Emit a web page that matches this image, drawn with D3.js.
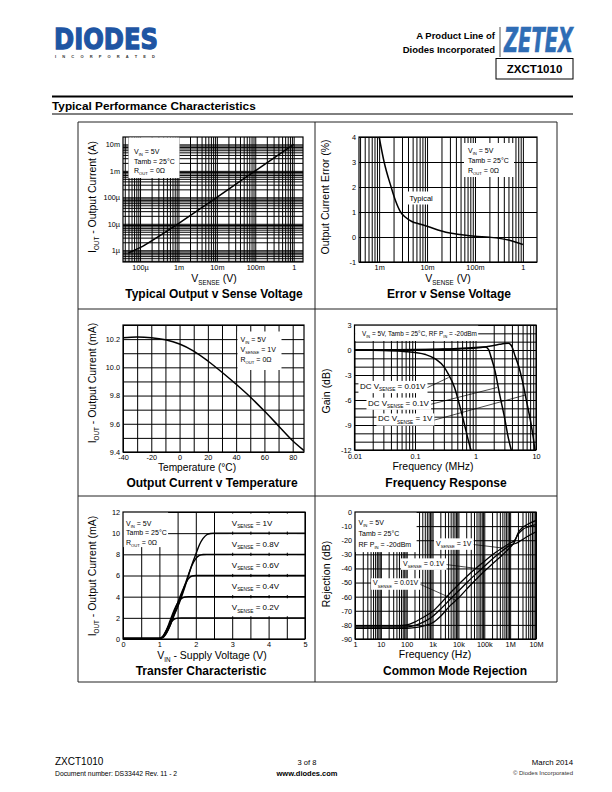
<!DOCTYPE html>
<html><head><meta charset="utf-8">
<script src="https://cdn.jsdelivr.net/npm/d3@7/dist/d3.min.js"></script>
<style>
html,body{margin:0;padding:0;background:#fff;}
svg{display:block;}
</style></head>
<body>
<svg id="page" width="612" height="792" xmlns="http://www.w3.org/2000/svg"></svg>
<script>
// ================= DATA =================
// Chart 1 – Typical Output v Sense Voltage
const c1Vsense = [5e-5, 1e-4, 3e-4, 1e-3, 1e-2, 1e-1, 1];
const c1Iout   = [0.8e-6, 1.25e-6, 3.3e-6, 1.02e-5, 1e-4, 1e-3, 1e-2];
const c1XTicks = [1e-4, 1e-3, 1e-2, 1e-1, 1];
const c1XLabels = ["100µ", "1m", "10m", "100m", "1"];
const c1YTicks = [1e-6, 1e-5, 1e-4, 1e-3, 1e-2];
const c1YLabels = ["1µ", "10µ", "100µ", "1m", "10m"];

// Chart 2 – Error v Sense Voltage
const c2Vsense = [1e-3, 1.27e-3, 1.78e-3, 2.2e-3, 2.8e-3, 3.5e-3, 4.8e-3, 7e-3, 1e-2, 2e-2, 3e-2, 5e-2, 1e-1, 2e-1, 5e-1, 1];
const c2Error  = [4.0, 3.0, 2.0, 1.45, 1.0, 0.8, 0.62, 0.52, 0.43, 0.24, 0.16, 0.1, 0.03, -0.01, -0.12, -0.3];
const c2XTicks = [1e-3, 1e-2, 1e-1, 1];
const c2XLabels = ["1m", "10m", "100m", "1"];
const c2YTicks = [-1, 0, 1, 2, 3, 4];

// Chart 3 – Output Current v Temperature
const c3Temp = [-40, -30, -20, -10, 0, 10, 20, 30, 40, 50, 60, 70, 80, 88];
const c3Iout = [10.21, 10.215, 10.21, 10.195, 10.165, 10.115, 10.045, 9.965, 9.88, 9.79, 9.69, 9.585, 9.48, 9.41];
const c3XTicks = [-40, -20, 0, 20, 40, 60, 80];
const c3YTicks = [9.4, 9.6, 9.8, 10.0, 10.2];

// Chart 4 – Frequency Response (MHz, dB)
const c4Freq1 = [0.01, 0.03, 0.06, 0.1, 0.15, 0.22, 0.3, 0.35, 0.45, 0.54, 0.66, 0.79, 0.84];
const c4Gain1 = [0, -0.05, -0.15, -0.3, -0.55, -1.1, -2.0, -2.8, -4.5, -6.5, -9.0, -11.3, -12];
const c4Freq2 = [0.01, 0.1, 0.3, 0.6, 1.0, 1.45, 1.65, 1.8, 2.1, 2.5, 3.0, 3.5, 3.9];
const c4Gain2 = [0, 0.05, 0.12, 0.22, 0.3, 0.35, 0.05, -0.8, -2.5, -5.3, -8.0, -10.6, -12];
const c4Freq3 = [0.01, 0.1, 0.3, 0.6, 1.0, 1.5, 2.0, 2.5, 3.0, 3.5, 4.0, 4.5, 5.2, 6.0, 7.0, 8.2, 9.0, 9.6];
const c4Gain3 = [0, 0.03, 0.08, 0.15, 0.25, 0.4, 0.55, 0.68, 0.77, 0.8, 0.4, -0.7, -2.0, -3.8, -6.2, -8.7, -10.5, -12];
const c4XTicks = [0.01, 0.1, 1, 10];
const c4XLabels = ["0.01", "0.1", "1", "10"];
const c4YTicks = [3, 0, -3, -6, -9, -12];

// Chart 5 – Transfer Characteristic (V, mA)
const c5Vin = [0, 1.0, 1.1, 1.2, 1.3, 1.4, 1.5, 1.6, 1.7, 1.8, 1.9, 2.0, 2.1, 2.2, 2.3, 2.4, 2.5, 5.0];
const c5I_1V  = [0.05, 0.05, 0.15, 0.6, 1.3, 2.2, 3.0, 3.9, 4.9, 6.0, 7.1, 8.0, 8.9, 9.5, 9.85, 9.97, 10, 10];
const c5I_08V = [0.05, 0.05, 0.15, 0.6, 1.35, 2.3, 3.1, 4.1, 5.1, 6.1, 7.0, 7.6, 7.9, 7.98, 8, 8, 8, 8];
const c5I_06V = [0.05, 0.05, 0.2, 0.8, 1.6, 2.5, 3.4, 4.3, 5.1, 5.7, 5.95, 6, 6, 6, 6, 6, 6, 6];
const c5I_04V = [0.05, 0.05, 0.25, 0.9, 1.8, 2.7, 3.4, 3.8, 3.97, 4, 4, 4, 4, 4, 4, 4, 4, 4];
const c5I_02V = [0.05, 0.05, 0.3, 0.9, 1.5, 1.85, 1.97, 2, 2, 2, 2, 2, 2, 2, 2, 2, 2, 2];
const c5XTicks = [0, 1, 2, 3, 4, 5];
const c5YTicks = [0, 2, 4, 6, 8, 10, 12];
const c5LabelLevels = [11, 9, 7, 5, 3];
const c5LabelValues = ["1V", "0.8V", "0.6V", "0.4V", "0.2V"];

// Chart 6 – Common Mode Rejection (Hz, dB)
const c6Freq = [1, 10, 50, 100, 200, 500, 1e3, 2e3, 5e3, 1e4, 2e4, 5e4, 1e5, 2e5, 5e5, 1e6, 1.5e6, 2e6, 3e6, 5e6, 1e7];
const c6Rej_1V   = [-80.5, -80.5, -80.5, -80, -78, -74, -70.5, -65, -57, -51.5, -46, -39.5, -35, -30.5, -25.5, -22, -20, -16, -12.5, -10.5, -9];
const c6Rej_01V  = [-81.5, -81.5, -81.5, -81.5, -80.5, -77.5, -74, -69, -61.5, -56, -50.5, -43.5, -38.5, -33.5, -27.5, -23.5, -22.5, -21.5, -19.5, -17, -14];
const c6Rej_001V = [-82.5, -82.5, -82.5, -82.5, -82, -80.5, -78.5, -74, -66, -61, -55, -47.5, -42, -37, -30.5, -25, -21, -15, -11, -8.5, -6];
const c6XTicks = [1, 10, 100, 1e3, 1e4, 1e5, 1e6, 1e7];
const c6XLabels = ["1", "10", "100", "1k", "10k", "100k", "1M", "10M"];
const c6YTicks = [0, -10, -20, -30, -40, -50, -60, -70, -80, -90];

// ================= DRAWING =================
const FONT = "'Liberation Sans', Arial, Helvetica, sans-serif";
const svg = d3.select('#page');
svg.append('rect').attr('width', 612).attr('height', 792).attr('fill', '#fff');

function rich(g, x, y, parts, size, opt = {}) {
  const t = g.append('text')
    .attr('x', x).attr('y', y)
    .attr('font-size', size)
    .attr('font-family', opt.family || FONT)
    .attr('text-anchor', opt.anchor || 'start')
    .attr('fill', opt.fill || '#000');
  if (opt.bold) t.attr('font-weight', 'bold');
  if (opt.rotate) t.attr('transform', `rotate(-90,${x},${y})`);
  let cur = 0;
  parts.forEach(p => {
    const sub = Array.isArray(p);
    const s = sub ? p[0] : p;
    const off = sub ? size * 0.3 : 0;
    const ts = t.append('tspan').text(s);
    if (off !== cur) { ts.attr('dy', off - cur); cur = off; }
    if (sub) ts.attr('font-size', size * 0.6);
  });
  return t;
}

function boxed(g, x, y, parts, size, pad) {
  const grp = g.append('g');
  const r = grp.append('rect').attr('fill', '#fff');
  const t = rich(grp, x, y, parts, size);
  const b = t.node().getBBox();
  r.attr('x', b.x - pad).attr('y', b.y - pad * 0.6).attr('width', b.width + 2 * pad).attr('height', b.height + pad * 1.2);
  return b;
}

let clipId = 0;
function chart(p, x, y, opt) {
  const g = svg.append('g');
  const gx = g.append('g').attr('transform', `translate(0,${p.b})`)
    .call(d3.axisBottom(x).tickValues(opt.gridX).tickSize(-(p.b - p.t)).tickFormat(''));
  const gy = g.append('g').attr('transform', `translate(${p.l},0)`)
    .call(d3.axisLeft(y).tickValues(opt.gridY).tickSize(-(p.r - p.l)).tickFormat(''));
  [gx, gy].forEach(a => { a.select('.domain').remove(); a.selectAll('line').attr('stroke', '#000').attr('stroke-width', 1); });
  g.append('rect').attr('x', p.l).attr('y', p.t).attr('width', p.r - p.l).attr('height', p.b - p.t)
    .attr('fill', 'none').attr('stroke', '#000').attr('stroke-width', 1.2);
  const ax = g.append('g').attr('transform', `translate(0,${p.b})`)
    .call(d3.axisBottom(x).tickValues(opt.xTicks).tickFormat((d, i) => opt.xLabels[i]).tickSize(0).tickPadding(opt.xPad || 2.5));
  const ay = g.append('g').attr('transform', `translate(${p.l},0)`)
    .call(d3.axisLeft(y).tickValues(opt.yTicks).tickFormat((d, i) => opt.yLabels[i]).tickSize(0).tickPadding(3));
  [ax, ay].forEach(a => {
    a.select('.domain').remove();
    a.attr('font-family', FONT).attr('font-size', 7.3);
    a.selectAll('text').attr('fill', '#000');
  });
  const id = 'clip' + (clipId++);
  g.append('clipPath').attr('id', id).append('rect')
    .attr('x', p.l).attr('y', p.t - 1).attr('width', p.r - p.l).attr('height', p.b - p.t + 2);
  g.clip = `url(#${id})`;
  return g;
}

function curve(g, x, y, xs, ys, w = 1.5) {
  g.append('path').datum(d3.zip(xs, ys))
    .attr('d', d3.line().x(d => x(d[0])).y(d => y(d[1])).curve(d3.curveMonotoneX))
    .attr('fill', 'none').attr('stroke', '#000').attr('stroke-width', w)
    .attr('stroke-linejoin', 'round').attr('clip-path', g.clip);
}

function legendBox(g, bx, by, bw, bh, lines, tx, ty0, dy, size) {
  g.append('rect').attr('x', bx).attr('y', by).attr('width', bw).attr('height', bh).attr('fill', '#fff');
  lines.forEach((l, i) => rich(g, tx, ty0 + i * dy, l, size));
}

// ---------- Header ----------
svg.append('text').attr('x', 54).attr('y', 48.5).attr('font-family', "'DejaVu Sans', sans-serif")
  .attr('font-weight', 'bold').attr('font-size', 29).attr('fill', '#1f55a3')
  .attr('stroke', '#1f55a3').attr('stroke-width', 1.3).attr('stroke-linejoin', 'miter')
  .attr('textLength', 104).attr('lengthAdjust', 'spacingAndGlyphs').text('DIODES');
svg.append('text').attr('x', 55).attr('y', 58).attr('font-family', FONT).attr('font-weight', 'bold')
  .attr('font-size', 4).attr('fill', '#333').attr('textLength', 100).attr('lengthAdjust', 'spacing')
  .text('I N C O R P O R A T E D');
svg.append('text').attr('x', 495).attr('y', 39).attr('text-anchor', 'end').attr('font-family', FONT)
  .attr('font-weight', 'bold').attr('font-size', 9.5).text('A Product Line of');
svg.append('text').attr('x', 495).attr('y', 52.5).attr('text-anchor', 'end').attr('font-family', FONT)
  .attr('font-weight', 'bold').attr('font-size', 9.5).text('Diodes Incorporated');
svg.append('line').attr('x1', 500).attr('x2', 500).attr('y1', 27).attr('y2', 57).attr('stroke', '#555').attr('stroke-width', 1);
svg.append('text').attr('x', 504).attr('y', 52).attr('font-family', "'Liberation Sans Narrow','DejaVu Sans Condensed','Liberation Sans',sans-serif")
  .attr('font-weight', 'bold').attr('font-style', 'italic').attr('font-size', 34).attr('fill', '#2f6db5')
  .attr('stroke', '#2f6db5').attr('stroke-width', 0.6)
  .attr('textLength', 69).attr('lengthAdjust', 'spacingAndGlyphs').text('ZETEX');
svg.append('rect').attr('x', 496).attr('y', 58.5).attr('width', 77).attr('height', 20.5)
  .attr('fill', 'none').attr('stroke', '#000').attr('stroke-width', 1);
svg.append('text').attr('x', 534.5).attr('y', 73).attr('text-anchor', 'middle').attr('font-family', FONT)
  .attr('font-weight', 'bold').attr('font-size', 11.5).text('ZXCT1010');

svg.append('line').attr('x1', 52).attr('x2', 573).attr('y1', 96.5).attr('y2', 96.5).attr('stroke', '#000').attr('stroke-width', 2.2);
svg.append('text').attr('x', 52).attr('y', 109.5).attr('font-family', FONT).attr('font-weight', 'bold')
  .attr('font-size', 11.8).text('Typical Performance Characteristics');
svg.append('line').attr('x1', 52).attr('x2', 573).attr('y1', 114).attr('y2', 114).attr('stroke', '#000').attr('stroke-width', 1);

// ---------- Panel frame ----------
const frame = svg.append('g').attr('stroke', '#222').attr('stroke-width', 1).attr('fill', 'none');
[78, 315, 557].forEach(xv => frame.append('line').attr('x1', xv).attr('x2', xv).attr('y1', 122).attr('y2', 682));
[122, 309, 496, 682].forEach(yv => frame.append('line').attr('x1', 78).attr('x2', 557).attr('y1', yv).attr('y2', yv));

const FS_AX = 10.5, FS_TI = 12, FS_LEG = 7;

// ---------- Chart 1 ----------
{
  const p = {l: 123, r: 303, t: 137, b: 262};
  const x = d3.scaleLog().domain([3.6e-5, 1.75]).range([p.l, p.r]);
  const y = d3.scaleLog().domain([3.6e-7, 0.019]).range([p.b, p.t]);
  const g = chart(p, x, y, {gridX: x.ticks(), gridY: y.ticks(), xTicks: c1XTicks, xLabels: c1XLabels, yTicks: c1YTicks, yLabels: c1YLabels});
  legendBox(g, 128.5, 137.5, 51, 40.5, [["V", ["IN"], " = 5V"], ["Tamb = 25°C"], ["R", ["OUT"], " = 0Ω"]], 134, 154, 9.5, FS_LEG);
  curve(g, x, y, c1Vsense, c1Iout);
  rich(g, 214, 282, ["V", ["SENSE"], " (V)"], FS_AX, {anchor: 'middle'});
  rich(g, 95.5, 197, ["I", ["OUT"], " - Output Current (A)"], FS_AX, {anchor: 'middle', rotate: true});
  rich(g, 214, 298, ["Typical Output v Sense Voltage"], FS_TI, {anchor: 'middle', bold: true});
}

// ---------- Chart 2 ----------
{
  const p = {l: 359, r: 537, t: 137, b: 262};
  const x = d3.scaleLog().domain([3.8e-4, 1.97]).range([p.l, p.r]);
  const y = d3.scaleLinear().domain([-1, 4]).range([p.b, p.t]);
  const g = chart(p, x, y, {gridX: x.ticks(), gridY: c2YTicks, xTicks: c2XTicks, xLabels: c2XLabels, yTicks: c2YTicks, yLabels: c2YTicks.map(String)});
  legendBox(g, 464, 143, 50, 34, [["V", ["IN"], " = 5V"], ["Tamb = 25°C"], ["R", ["OUT"], " = 0Ω"]], 468, 153, 9.8, FS_LEG);
  curve(g, x, y, c2Vsense, c2Error);
  const tp = rich(g, x(7.5e-3), y(1.56) + 2.5, ["Typical"], 7.5, {anchor: 'middle'});
  const b = tp.node().getBBox();
  g.insert('rect', () => tp.node()).attr('x', b.x - 3).attr('y', b.y - 2).attr('width', b.width + 6).attr('height', b.height + 4).attr('fill', '#fff');
  rich(g, 448, 282, ["V", ["SENSE"], " (V)"], FS_AX, {anchor: 'middle'});
  rich(g, 328.5, 197, ["Output Current Error (%)"], FS_AX, {anchor: 'middle', rotate: true});
  rich(g, 449, 298, ["Error v Sense Voltage"], FS_TI, {anchor: 'middle', bold: true});
}

// ---------- Chart 3 ----------
{
  const p = {l: 123, r: 304, t: 325, b: 452};
  const x = d3.scaleLinear().domain([-40, 88]).range([p.l, p.r]);
  const y = d3.scaleLinear().domain([9.4, 10.3]).range([p.b, p.t]);
  const g = chart(p, x, y, {gridX: d3.range(-40, 81, 10), gridY: d3.range(94, 104, 1).map(v => v / 10),
    xTicks: c3XTicks, xLabels: c3XTicks.map(String), yTicks: c3YTicks, yLabels: c3YTicks.map(d => d.toFixed(1))});
  legendBox(g, 237.5, 331.5, 44, 38.5, [["V", ["IN"], " = 5V"], ["V", ["SENSE"], " = 1V"], ["R", ["OUT"], " = 0Ω"]], 240.5, 341.5, 10, FS_LEG);
  curve(g, x, y, c3Temp, c3Iout);
  rich(g, 197, 470.5, ["Temperature (°C)"], 10.2, {anchor: 'middle'});
  rich(g, 95.5, 383, ["I", ["OUT"], " - Output Current (mA)"], FS_AX, {anchor: 'middle', rotate: true});
  rich(g, 212, 486.5, ["Output Current v Temperature"], FS_TI, {anchor: 'middle', bold: true});
}

// ---------- Chart 4 ----------
{
  const p = {l: 354.5, r: 536, t: 325, b: 450};
  const x = d3.scaleLog().domain([0.01, 10]).range([p.l, p.r]);
  const y = d3.scaleLinear().domain([-12, 3]).range([p.b, p.t]);
  const g = chart(p, x, y, {gridX: x.ticks(), gridY: d3.range(-12, 4, 1), xTicks: c4XTicks, xLabels: c4XLabels, yTicks: c4YTicks, yLabels: c4YTicks.map(String), xPad: 4});
  legendBox(g, 355.2, 325.7, 123, 15.3, [["V", ["IN"], " = 5V, Tamb = 25°C, RF P", ["IN"], " = -20dBm"]], 362, 336, 0, 6.4);
  curve(g, x, y, c4Freq1, c4Gain1);
  curve(g, x, y, c4Freq2, c4Gain2);
  curve(g, x, y, c4Freq3, c4Gain3);
  const labs = [
    {at: [0.0123, -4.3], parts: ["DC V", ["SENSE"], " = 0.01V"], end: [0.36, -3.3]},
    {at: [0.0167, -6.3], parts: ["DC V", ["SENSE"], " = 0.1V"], end: [2.27, -4.5]},
    {at: [0.0244, -8.2], parts: ["DC V", ["SENSE"], " = 1V"], end: [6.7, -5.4]}
  ];
  labs.forEach(l => {
    const b = boxed(g, x(l.at[0]), y(l.at[1]) + 3, l.parts, 8, 1.5);
    g.append('line').attr('x1', b.x + b.width + 1.5).attr('y1', b.y + b.height * 0.55)
      .attr('x2', x(l.end[0])).attr('y2', y(l.end[1])).attr('stroke', '#000').attr('stroke-width', 0.7);
  });
  rich(g, 433, 470, ["Frequency (MHz)"], FS_AX, {anchor: 'middle'});
  rich(g, 329.5, 391, ["Gain (dB)"], FS_AX, {anchor: 'middle', rotate: true});
  rich(g, 446, 486.5, ["Frequency Response"], FS_TI, {anchor: 'middle', bold: true});
}

// ---------- Chart 5 ----------
{
  const p = {l: 123, r: 305, t: 512, b: 639};
  const x = d3.scaleLinear().domain([0, 5]).range([p.l, p.r]);
  const y = d3.scaleLinear().domain([0, 12]).range([p.b, p.t]);
  const g = chart(p, x, y, {gridX: d3.range(0, 11, 1).map(v => v / 2), gridY: c5YTicks, xTicks: c5XTicks, xLabels: c5XTicks.map(String), yTicks: c5YTicks, yLabels: c5YTicks.map(String)});
  legendBox(g, 123.6, 512.6, 44.5, 34.5, [["V", ["IN"], " = 5V"], ["Tamb = 25°C"], ["R", ["OUT"], " = 0Ω"]], 126, 525.5, 9.5, FS_LEG);
  c5LabelLevels.forEach((lv, i) => {
    g.append('rect').attr('x', x(2.9)).attr('y', y(lv + 0.85)).attr('width', x(4.78) - x(2.9)).attr('height', y(lv - 0.85) - y(lv + 0.85)).attr('fill', '#fff');
    rich(g, x(2.99), y(lv) + 3, ["V", ["SENSE"], " = " + c5LabelValues[i]], 8);
  });
  [c5I_1V, c5I_08V, c5I_06V, c5I_04V, c5I_02V].forEach(s => curve(g, x, y, c5Vin, s, 1.4));
  rich(g, 212, 658.5, ["V", ["IN"], " - Supply Voltage (V)"], FS_AX, {anchor: 'middle'});
  rich(g, 95.5, 576, ["I", ["OUT"], " - Output Current (mA)"], FS_AX, {anchor: 'middle', rotate: true});
  rich(g, 201, 674.5, ["Transfer Characteristic"], FS_TI, {anchor: 'middle', bold: true});
}

// ---------- Chart 6 ----------
{
  const p = {l: 355, r: 536, t: 512, b: 639};
  const x = d3.scaleLog().domain([1, 1e7]).range([p.l, p.r]);
  const y = d3.scaleLinear().domain([-90, 0]).range([p.b, p.t]);
  const g = chart(p, x, y, {gridX: x.ticks(), gridY: c6YTicks, xTicks: c6XTicks, xLabels: c6XLabels, yTicks: c6YTicks, yLabels: c6YTicks.map(String)});
  legendBox(g, 355.6, 512.6, 61, 39.5, [["V", ["IN"], " = 5V"], ["Tamb = 25°C"], ["RF P", ["IN"], " = -20dBm"]], 358.5, 524.5, 11, FS_LEG);
  curve(g, x, y, c6Freq, c6Rej_1V, 1.3);
  curve(g, x, y, c6Freq, c6Rej_01V, 1.3);
  curve(g, x, y, c6Freq, c6Rej_001V, 1.3);
  const labs = [
    {at: [1356, -22], parts: ["V", ["SENSE"], " = 1V"], end: [5e5, -25.5]},
    {at: [72, -36.2], parts: ["V", ["SENSE"], " = 0.1V"], end: [8e4, -40.5]},
    {at: [5, -50.3], parts: ["V", ["SENSE"], " = 0.01V"], end: [8e3, -62.6]}
  ];
  labs.forEach(l => {
    const b = boxed(g, x(l.at[0]), y(l.at[1]) + 2.5, l.parts, 7, 2);
    g.append('line').attr('x1', b.x + b.width + 2).attr('y1', b.y + b.height * 0.55)
      .attr('x2', x(l.end[0])).attr('y2', y(l.end[1])).attr('stroke', '#000').attr('stroke-width', 0.7);
  });
  rich(g, 435, 657.5, ["Frequency (Hz)"], FS_AX, {anchor: 'middle'});
  rich(g, 329.5, 574, ["Rejection (dB)"], FS_AX, {anchor: 'middle', rotate: true});
  rich(g, 455, 674.5, ["Common Mode Rejection"], FS_TI, {anchor: 'middle', bold: true});
}

// ---------- Footer ----------
svg.append('text').attr('x', 55).attr('y', 765).attr('font-family', FONT).attr('font-size', 10).text('ZXCT1010');
svg.append('text').attr('x', 55).attr('y', 775.5).attr('font-family', FONT).attr('font-size', 6.8).text('Document number: DS33442 Rev. 11 - 2');
svg.append('text').attr('x', 307).attr('y', 765).attr('text-anchor', 'middle').attr('font-family', FONT).attr('font-size', 7.5).text('3 of 8');
svg.append('text').attr('x', 307).attr('y', 775.5).attr('text-anchor', 'middle').attr('font-family', FONT).attr('font-weight', 'bold').attr('font-size', 7.5).text('www.diodes.com');
svg.append('text').attr('x', 573).attr('y', 765).attr('text-anchor', 'end').attr('font-family', FONT).attr('font-size', 7.8).text('March 2014');
svg.append('text').attr('x', 573).attr('y', 775).attr('text-anchor', 'end').attr('font-family', FONT).attr('font-size', 6).attr('fill', '#333').text('© Diodes Incorporated');
</script>
</body></html>
